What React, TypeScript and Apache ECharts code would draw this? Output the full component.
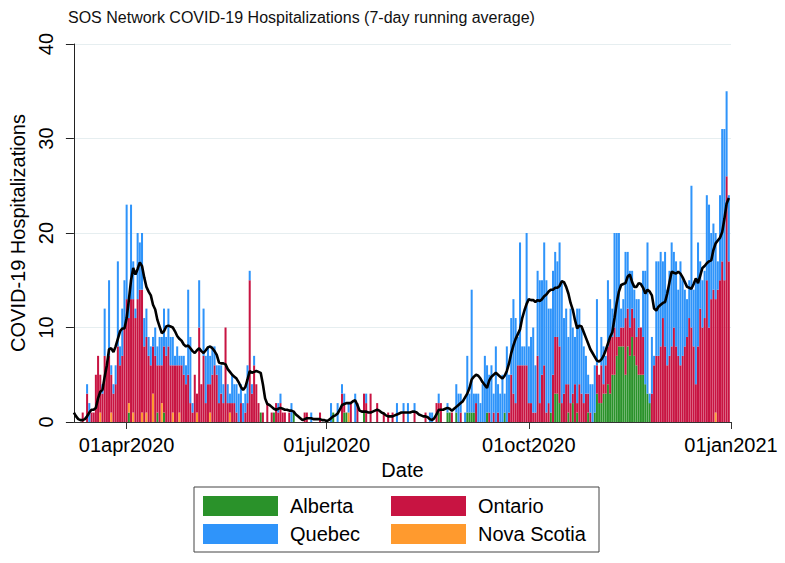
import React, { useEffect, useRef } from "react";
import * as echarts from "echarts";

// ---- categories: one per day, 08mar2020 .. 01jan2021 ----
const monthAbbr = ["jan", "feb", "mar", "apr", "may", "jun", "jul", "aug", "sep", "oct", "nov", "dec"];
const firstDay = Date.UTC(2020, 2, 8);
const dayCount = 300;
const categories: string[] = Array.from({ length: dayCount }, (_, i) => {
  const d = new Date(firstDay + i * 86400000);
  return String(d.getUTCDate()).padStart(2, "0") + monthAbbr[d.getUTCMonth()] + d.getUTCFullYear();
});
const tickLabels = ["01apr2020", "01jul2020", "01oct2020", "01jan2021"];

// ---- daily hospitalizations (index 0 = 08mar2020) ----
const quebec = [
  0, 0, 0, 0, 0, 0, 1, 2, 0, 0,
  0, 0, 0, 1, 5, 0, 8, 1, 1, 2,
  9, 2, 5, 5, 10, 2, 10, 4, 1, 7,
  5, 6, 3, 3, 2, 2, 1, 3, 2, 3,
  3, 4, 2, 4, 3, 3, 1, 2, 1, 1,
  2, 2, 9, 7, 1, 0, 0, 5, 0, 5,
  5, 4, 3, 3, 2, 1, 4, 3, 2, 0,
  2, 1, 3, 2, 3, 3, 2, 2, 2, 4,
  1, 1, 1, 0, 0, 0, 0, 0, 0, 0,
  0, 0, 0, 1, 1, 0, 0, 0, 0, 2,
  0, 0, 0, 0, 0, 0, 0, 0, 1, 0,
  0, 0, 0, 0, 0, 0, 0, 2, 0, 0,
  2, 0, 1, 1, 0, 1, 0, 0, 3, 0,
  0, 0, 0, 1, 0, 0, 0, 0, 0, 0,
  0, 0, 0, 0, 0, 0, 0, 2, 0, 0,
  1, 0, 2, 0, 0, 1, 0, 0, 0, 0,
  0, 0, 1, 1, 0, 0, 1, 0, 0, 0,
  1, 0, 0, 0, 3, 3, 2, 0, 1, 6,
  2, 13, 2, 1, 3, 2, 4, 7, 5, 4,
  6, 2, 8, 3, 3, 5, 2, 8, 4, 6,
  10, 9, 3, 13, 2, 2, 14, 6, 7, 9,
  5, 9, 13, 10, 13, 14, 10, 11, 11, 9,
  8, 11, 13, 8, 8, 5, 10, 7, 5, 10,
  8, 7, 6, 4, 2, 3, 4, 5, 7, 0,
  3, 4, 1, 7, 4, 3, 10, 11, 11, 2,
  3, 7, 6, 6, 4, 3, 4, 3, 0, 7,
  12, 16, 1, 6, 1, 10, 10, 10, 6, 10,
  8, 9, 11, 8, 9, 7, 11, 8, 6, 4,
  4, 15, 6, 11, 11, 5, 5, 5, 9, 13,
  7, 7, 7, 3, 9, 14, 16, 9, 7, 0,
];
const ontario = [
  0, 0, 0, 0, 1, 0, 3, 0, 1, 1,
  5, 7, 4, 3, 7, 6, 7, 4, 3, 4,
  8, 6, 7, 10, 13, 9, 13, 12, 11, 13,
  14, 13, 8, 8, 7, 6, 5, 7, 5, 6,
  4, 7, 7, 8, 6, 5, 6, 6, 5, 6,
  5, 4, 5, 2, 1, 5, 2, 10, 4, 7,
  2, 4, 3, 5, 6, 5, 2, 3, 2, 10,
  2, 1, 2, 2, 1, 0, 2, 0, 1, 2,
  15, 3, 6, 4, 2, 0, 1, 0, 2, 0,
  1, 0, 2, 1, 2, 1, 1, 0, 1, 0,
  0, 0, 0, 0, 0, 1, 1, 0, 0, 0,
  0, 0, 1, 0, 0, 0, 0, 0, 0, 0,
  0, 0, 3, 1, 0, 0, 2, 0, 0, 2,
  0, 0, 2, 2, 0, 3, 0, 0, 2, 0,
  0, 1, 0, 1, 0, 1, 0, 0, 0, 0,
  1, 0, 0, 0, 0, 1, 0, 0, 0, 0,
  1, 0, 0, 0, 0, 2, 1, 2, 0, 0,
  0, 0, 1, 0, 0, 0, 1, 0, 0, 0,
  0, 0, 0, 2, 0, 0, 0, 0, 0, 1,
  0, 1, 0, 1, 0, 0, 0, 0, 1, 5,
  3, 2, 6, 6, 6, 6, 6, 2, 2, 1,
  1, 7, 2, 5, 6, 1, 2, 0, 5, 6,
  6, 6, 2, 3, 4, 3, 2, 1, 4, 1,
  4, 3, 2, 3, 2, 1, 0, 0, 3, 3,
  4, 1, 3, 4, 6, 4, 5, 2, 1, 2,
  2, 6, 4, 3, 3, 4, 3, 5, 5, 4,
  0, 0, 0, 3, 6, 7, 7, 8, 11, 8,
  6, 7, 8, 10, 8, 7, 6, 7, 8, 9,
  11, 10, 8, 4, 8, 12, 10, 11, 15, 10,
  13, 14, 12, 14, 15, 17, 15, 26, 17, 0,
];
// sparse: [day index, count]
const albertaDays: [number, number][] = [
  [25, 1], [38, 1], [41, 1], [85, 1], [91, 1], [100, 1], [118, 1], [123, 1], [124, 1], [132, 1],
  [166, 1], [170, 1], [171, 1], [174, 1], [179, 1], [180, 1], [181, 1], [182, 1], [188, 1], [196, 1],
  [217, 1], [219, 3], [220, 3], [221, 2], [225, 1], [227, 2], [229, 1], [234, 1], [237, 1], [238, 3],
  [239, 2], [240, 2], [241, 3], [242, 3], [243, 4], [244, 3], [245, 5], [246, 5], [247, 7], [248, 8],
  [249, 8], [250, 8], [251, 5], [252, 8], [253, 7], [254, 9], [255, 7], [256, 6], [257, 5], [258, 5],
  [259, 5], [260, 4], [261, 3], [262, 2],
];
const novaScotiaDays: [number, number][] = [
  [12, 1], [17, 1], [25, 1], [27, 1], [31, 1], [33, 1], [36, 3], [40, 2], [45, 1], [48, 1],
  [56, 1], [62, 1], [71, 1], [125, 1], [292, 1],
];
// 7-day running average of all sites
const runningAvg = [
  1.0, 0.6, 0.3, 0.2, 0.2, 0.3, 0.6, 1.0, 1.3, 1.3,
  1.5, 2.5, 3.2, 3.4, 4.8, 6.0, 7.7, 7.8, 7.4, 8.0,
  8.8, 9.6, 9.9, 9.9, 11.0, 12.9, 15.0, 16.3, 15.6, 16.2,
  16.9, 16.5, 15.3, 14.3, 13.8, 13.4, 12.4, 11.9, 10.8, 10.1,
  9.4, 9.6, 10.1, 10.2, 10.1, 10.0, 9.6, 9.1, 8.8, 8.6,
  8.2, 8.0, 8.1, 7.8, 7.5, 7.3, 7.6, 7.8, 7.5, 7.3,
  7.6, 7.9, 8.0, 7.8, 7.5, 7.1, 6.3, 6.2, 6.2, 6.1,
  5.6, 5.3, 5.0, 4.8, 4.6, 4.2, 3.7, 3.4, 3.7, 4.5,
  5.4, 5.2, 5.3, 5.4, 5.3, 5.2, 4.0, 2.5, 1.9, 1.8,
  1.6, 1.4, 1.3, 1.4, 1.5, 1.4, 1.3, 1.3, 1.2, 1.2,
  1.1, 0.8, 0.6, 0.4, 0.2, 0.3, 0.4, 0.4, 0.4, 0.3,
  0.3, 0.3, 0.3, 0.2, 0.2, 0.1, 0.2, 0.4, 0.6, 0.7,
  0.9, 1.3, 1.8, 1.9, 2.0, 2.0, 2.0, 2.2, 2.3, 1.8,
  1.2, 1.1, 1.1, 1.1, 1.0, 1.0, 1.1, 1.2, 1.3, 1.2,
  1.0, 0.9, 0.7, 0.6, 0.6, 0.6, 0.7, 0.8, 0.9, 1.0,
  1.0, 1.0, 1.0, 1.0, 1.1, 1.1, 1.0, 0.8, 0.7, 0.6,
  0.6, 0.5, 0.3, 0.2, 0.4, 0.8, 1.3, 1.3, 1.3, 1.4,
  1.5, 1.4, 1.2, 1.4, 1.6, 1.8, 2.0, 2.2, 2.6, 3.0,
  3.6, 4.5, 4.8, 5.0, 4.9, 4.6, 4.2, 3.9, 3.6, 4.4,
  4.8, 5.0, 5.2, 5.0, 4.8, 4.6, 4.9, 5.4, 6.2, 7.3,
  8.1, 8.8, 9.3, 9.8, 11.0, 11.8, 12.5, 13.0, 12.9, 12.9,
  12.7, 12.9, 12.8, 13.0, 13.3, 13.5, 13.8, 14.0, 14.0, 14.2,
  14.2, 14.4, 14.9, 14.8, 14.3, 13.6, 12.6, 11.9, 10.8, 9.9,
  10.2, 10.1, 9.5, 8.9, 8.3, 7.7, 7.3, 6.9, 6.5, 6.4,
  6.6, 7.0, 7.6, 8.3, 9.0, 9.5, 11.0, 12.6, 13.8, 14.5,
  14.6, 14.7, 15.4, 15.6, 14.8, 14.3, 14.3, 14.7, 14.6, 14.2,
  13.6, 14.0, 13.8, 13.4, 12.0, 11.8, 12.2, 12.4, 12.6, 12.7,
  13.6, 14.8, 15.9, 15.8, 15.7, 15.9, 15.7, 15.3, 14.8, 14.3,
  14.2, 14.1, 14.6, 15.2, 14.7, 15.5, 16.3, 16.5, 16.8, 17.0,
  17.1, 18.2, 18.9, 19.2, 19.5, 20.1, 21.5, 23.1, 23.7, null,
];

const expand = (pairs: [number, number][]) => {
  const out = new Array(dayCount).fill(0);
  pairs.forEach(([i, v]) => (out[i] = v));
  return out;
};
const alberta = expand(albertaDays);
const novaScotia = expand(novaScotiaDays);

const COLORS = {
  Alberta: "#2a922a",
  Ontario: "#c81442",
  Quebec: "#2f94fa",
  "Nova Scotia": "#ff9a2e",
};
const FONT = "'Liberation Sans', Arial, Helvetica, sans-serif";

export default function App() {
  const ref = useRef<HTMLDivElement>(null);
  useEffect(() => {
    if (!ref.current) return;
    const chart = echarts.init(ref.current, null, { renderer: "svg" });
    const isTick = (idx: number) => tickLabels.includes(categories[idx]);
    const barSeries = (name: keyof typeof COLORS, data: number[]) => ({
      name,
      type: "bar",
      stack: "sites",
      data,
      barCategoryGap: "8%",
      itemStyle: { color: COLORS[name] },
      emphasis: { disabled: true },
    });
    chart.setOption({
      animation: false,
      textStyle: { fontFamily: FONT, color: "#000" },
      title: {
        text: "SOS Network COVID-19 Hospitalizations (7-day running average)",
        left: 68,
        top: 9,
        padding: 0,
        textStyle: { fontSize: 16, fontWeight: "normal", color: "#111", fontFamily: FONT },
      },
      grid: { left: 65, right: 54, top: 44, bottom: 141, containLabel: false },
      xAxis: {
        type: "category",
        data: categories,
        boundaryGap: false,
        name: "Date",
        nameLocation: "middle",
        nameGap: 38,
        nameTextStyle: { fontSize: 20, color: "#000", fontFamily: FONT },
        axisLine: { lineStyle: { color: "#333", width: 1 } },
        axisTick: { interval: (i: number) => isTick(i), length: 7, lineStyle: { color: "#333" } },
        axisLabel: {
          interval: (i: number) => isTick(i),
          fontSize: 20,
          margin: 13,
          color: "#000",
          fontFamily: FONT,
        },
        splitLine: { show: false },
      },
      yAxis: {
        type: "value",
        min: 0,
        max: 40,
        interval: 10,
        name: "COVID-19 Hospitalizations",
        nameLocation: "middle",
        nameGap: 37,
        nameTextStyle: { fontSize: 20, color: "#000", fontFamily: FONT },
        axisLine: { show: true, lineStyle: { color: "#222", width: 1 } },
        axisTick: { show: true, length: 8, lineStyle: { color: "#222" } },
        axisLabel: { rotate: 90, fontSize: 20, margin: 18, color: "#000", fontFamily: FONT },
        splitLine: { show: true, lineStyle: { color: "#e6eef0", width: 1 } },
      },
      legend: [
        {
          orient: "vertical",
          left: 203,
          top: 496,
          padding: 0,
          itemWidth: 75,
          itemHeight: 20,
          itemGap: 8,
          icon: "rect",
          data: ["Alberta", "Quebec"],
          textStyle: { fontSize: 20, color: "#000", fontFamily: FONT, padding: [0, 0, 0, 7] },
          selectedMode: false,
        },
        {
          orient: "vertical",
          left: 391,
          top: 496,
          padding: 0,
          itemWidth: 75,
          itemHeight: 20,
          itemGap: 8,
          icon: "rect",
          data: ["Ontario", "Nova Scotia"],
          textStyle: { fontSize: 20, color: "#000", fontFamily: FONT, padding: [0, 0, 0, 7] },
          selectedMode: false,
        },
      ],
      graphic: [
        {
          type: "rect",
          shape: { x: 194, y: 487, width: 405, height: 65 },
          style: { fill: "#fff", stroke: "#444", lineWidth: 1 },
          z: 0,
          silent: true,
        },
      ],
      series: [
        barSeries("Alberta", alberta),
        barSeries("Nova Scotia", novaScotia),
        barSeries("Ontario", ontario),
        barSeries("Quebec", quebec),
        {
          name: "7-day average",
          type: "line",
          data: runningAvg,
          showSymbol: false,
          symbol: "none",
          lineStyle: { color: "#000", width: 2.6 },
          z: 10,
          emphasis: { disabled: true },
        },
      ],
    });
    return () => chart.dispose();
  }, []);
  return (
    <div
      ref={ref}
      style={{ position: "fixed", left: 0, top: 0, width: 785, height: 563, background: "#fff" }}
    />
  );
}
